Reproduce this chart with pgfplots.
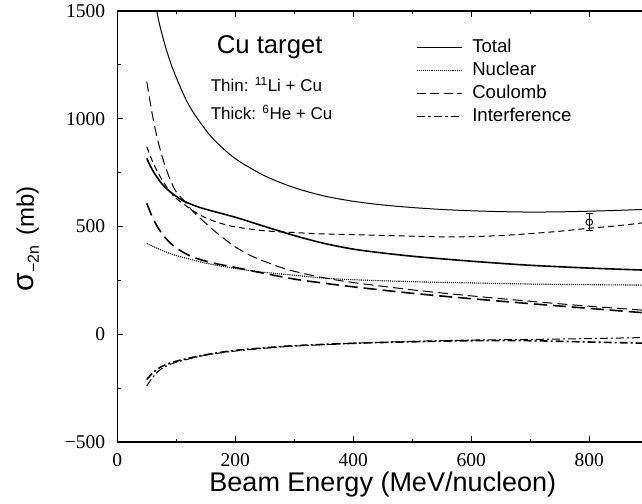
\documentclass[border=0pt]{standalone}
\usepackage{fontspec}
\setmainfont{Liberation Sans}
\newfontfamily\timesf{Liberation Serif}
\usepackage{pgfplots}
\pgfplotsset{compat=1.18}

\begin{document}
\begin{tikzpicture}
\begin{scope}
\clip (-117.3pt,-61pt) rectangle (524.7pt,442pt);
\begin{axis}[
  at={(0pt,0pt)}, anchor=south west,
  scale only axis, width=531pt, height=431pt,
  xmin=0, xmax=900, ymin=-500, ymax=1500,
  xtick={0,200,400,600,800}, xticklabels={0,200,400,600,800},
  ytick={-500,0,500,1000,1500}, yticklabels={−500,0,500,1000,1500},
  minor x tick num=1, minor y tick num=1,
  major tick length=6pt, minor tick length=3.5pt,
  tick align=inside,
  axis line style={line width=1.1pt},
  every tick/.style={line width=0.9pt, black},
  tick label style={font=\timesf\fontsize{19.5}{19.5}\selectfont},
  xticklabel style={anchor=center, inner sep=0pt, yshift=-18pt},
  yticklabel style={anchor=east, inner sep=0pt, xshift=-12pt},
  every axis x label/.style={at={(rel axis cs:0.5,0)}, anchor=base, yshift=-49.7pt,
    font=\fontsize{27}{27}\selectfont},
  every axis y label/.style={at={(rel axis cs:0,0.471)}, xshift=-83.3pt, rotate=90, anchor=base},
  xlabel={Beam Energy (MeV/nucleon)},
  ylabel={\fontsize{30}{30}\selectfont σ\kern1pt\raisebox{-5pt}{\fontsize{16}{16}\selectfont −2n}\hspace{10pt}\fontsize{24}{24}\selectfont (mb)},
  legend cell align=left,
  legend image code/.code={\draw[#1] (0pt,0pt) -- (45pt,0pt);},
  legend style={at={(rel axis cs:0.5625,0.9355)}, anchor=north west, draw=none, fill=none,
    inner sep=0pt, row sep=5.5pt, column sep=10pt,
    font=\fontsize{18.6}{18.6}\selectfont,
    nodes={inner sep=0pt, text height=13.5pt, text depth=4pt}},
]
\addlegendimage{black, line width=1pt}
\addlegendentry{Total}
\addlegendimage{black, line width=1.1pt, dash pattern=on 1.1pt off 1pt}
\addlegendentry{Nuclear}
\addlegendimage{black, line width=1pt, dash pattern=on 9pt off 4.5pt}
\addlegendentry{Coulomb}
\addlegendimage{black, line width=1pt, dash pattern=on 8pt off 3pt on 3pt off 3pt}
\addlegendentry{Interference}

% thin lines: 11Li + Cu
\addplot[forget plot, black, line width=1pt, smooth] coordinates {
(50,2000)(58,1720)(67,1500)(80,1350)(95,1225)(118,1080)(140,985)(163,905)(200,815)(250,735)
(300,680)(350,642)(400,617)(450,600)(500,588)(550,579)(600,573)(650,569)(700,567)(750,568)
(800,571)(850,575)(900,580)};
\addplot[forget plot, black, line width=1.1pt, dash pattern=on 1.1pt off 1pt, smooth] coordinates {
(50,422)(75,390)(100,365)(150,330)(200,305)(250,287)(300,274)(344,262)(400,253)(500,244)
(600,238)(700,233)(800,230)(900,228)};
\addplot[forget plot, black, line width=1pt, dash pattern=on 10pt off 5pt, smooth] coordinates {
(50,1172)(60,1010)(70,885)(80,790)(90,715)(100,660)(112,623)(130,565)(150,515)(163,483)
(185,435)(200,405)(230,360)(270,317)(300,292)(350,262)(400,240)(500,206)(600,178)(700,153)
(800,130)(900,110)};
\addplot[forget plot, black, line width=1pt, dash pattern=on 8pt off 3pt on 2pt off 3pt, smooth] coordinates {
(50,-240)(60,-200)(75,-160)(100,-130)(150,-97)(200,-78)(250,-65)(300,-55)(400,-42)(500,-33)
(600,-27)(700,-24)(800,-20)(900,-15)};
\addplot[forget plot, black, line width=1pt, dash pattern=on 6pt off 4pt, smooth] coordinates {
(50,870)(60,800)(75,720)(90,660)(100,630)(112,605)(130,570)(150,540)(175,515)(200,498)
(250,480)(300,472)(344,466)(400,462)(500,455)(550,452)(600,453)(650,458)(700,467)(750,478)
(800,492)(850,504)(900,520)};

% thick lines: 6He + Cu
\addplot[forget plot, black, line width=1.6pt, smooth] coordinates {
(50,816)(60,760)(75,700)(90,660)(110,622)(130,598)(150,580)(200,543)(250,500)(300,458)
(350,422)(400,395)(450,377)(500,362)(550,350)(600,339)(650,329)(700,320)(800,307)(900,297)};
\addplot[forget plot, black, line width=1.6pt, dash pattern=on 13pt off 6pt, smooth] coordinates {
(50,607)(60,540)(70,490)(80,452)(90,423)(100,400)(120,368)(140,347)(170,326)(200,310)
(250,282)(300,256)(350,237)(400,220)(500,190)(600,165)(700,142)(800,120)(900,98)};
\addplot[forget plot, black, line width=1.6pt, dash pattern=on 8pt off 3pt on 2pt off 3pt, smooth] coordinates {
(50,-210)(60,-180)(75,-150)(100,-125)(150,-95)(200,-75)(250,-63)(300,-53)(400,-42)(500,-35)
(600,-30)(700,-30)(800,-36)(900,-42)};

% measured point
\addplot[forget plot, black, only marks, mark=o, mark size=3.3pt, mark options={fill=white, line width=0.9pt},
  error bars/.cd, y dir=both, y explicit, error bar style={line width=0.9pt},
  error mark options={rotate=90, mark size=3.4pt, line width=0.9pt}]
  coordinates {(800,520) +- (0,40)};

\node[anchor=base west, font=\fontsize{25.7}{25.7}\selectfont] at (axis cs:162.7,1305) {Cu target};
\node[anchor=base west, font=\fontsize{17}{17}\selectfont] at (axis cs:152.5,1125) {Thin: \textsuperscript{11}Li + Cu};
\node[anchor=base west, font=\fontsize{17}{17}\selectfont] at (axis cs:152.5,997) {Thick: \textsuperscript{6}He + Cu};
\end{axis}
\end{scope}
\pgfresetboundingbox
\useasboundingbox (-117.3pt,-61pt) rectangle (524.7pt,442pt);
\end{tikzpicture}
\end{document}
